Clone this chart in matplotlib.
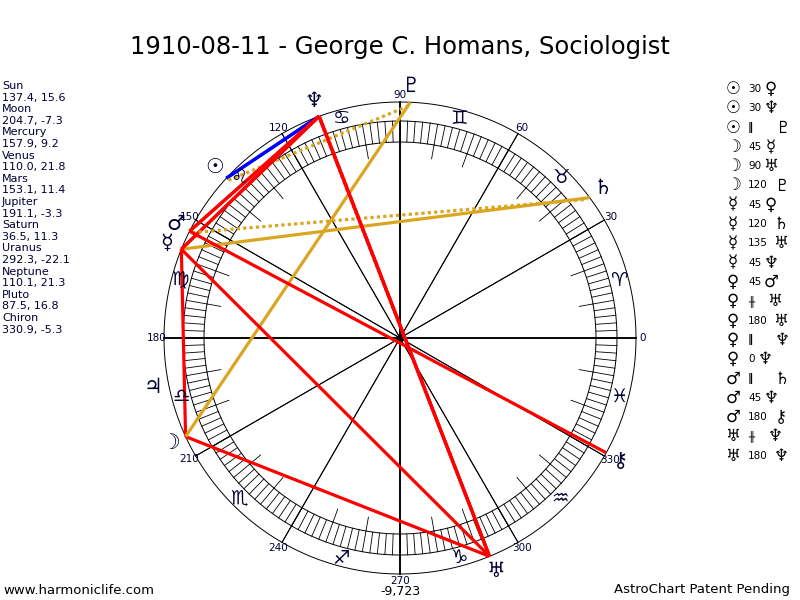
import numpy as np
import matplotlib
matplotlib.use('Agg')
import matplotlib.pyplot as plt

# planet data: longitude, declination
planets = ['Sun', 'Moon', 'Mercury', 'Venus', 'Mars', 'Jupiter', 'Saturn',
           'Uranus', 'Neptune', 'Pluto', 'Chiron']
longitude = [137.4, 204.7, 157.9, 110.0, 153.1, 191.1, 36.5, 292.3, 110.1, 87.5, 330.9]
declination = [15.6, -7.3, 9.2, 21.8, 11.4, -3.3, 11.3, -22.1, 21.3, 16.8, -5.3]
glyphs = ['\u2609', '\u263D', '\u263F', '\u2640', '\u2642', '\u2643', '\u2644',
          '\u2645', '\u2646', '\u2647', '\u26B7']

signs = ['\u2648', '\u2649', '\u264A', '\u264B', '\u264C', '\u264D',
         '\u264E', '\u264F', '\u2650', '\u2651', '\u2652', '\u2653']

PAR = '\u2016'
CPAR = '\u256B'
# aspects: planet a, aspect, planet b
aspects = [
    ('Sun', '30', 'Venus'), ('Sun', '30', 'Neptune'), ('Sun', PAR, 'Pluto'),
    ('Moon', '45', 'Mercury'), ('Moon', '90', 'Uranus'), ('Moon', '120', 'Pluto'),
    ('Mercury', '45', 'Venus'), ('Mercury', '120', 'Saturn'), ('Mercury', '135', 'Uranus'),
    ('Mercury', '45', 'Neptune'), ('Venus', '45', 'Mars'), ('Venus', CPAR, 'Uranus'),
    ('Venus', '180', 'Uranus'), ('Venus', PAR, 'Neptune'), ('Venus', '0', 'Neptune'),
    ('Mars', PAR, 'Saturn'), ('Mars', '45', 'Neptune'), ('Mars', '180', 'Chiron'),
    ('Uranus', CPAR, 'Neptune'), ('Uranus', '180', 'Neptune'),
]

title = '1910-08-11 - George C. Homans, Sociologist'
footer_left = 'www.harmoniclife.com'
footer_right = 'AstroChart Patent Pending'
footer_mid = '-9,723'

INK = '#000033'
R_OUT, R_BAND_O, R_BAND_I = 236, 217, 196


def xy(deg, r):
    a = np.radians(deg)
    return r * np.cos(a), r * np.sin(a)


fig = plt.figure(figsize=(8, 6), dpi=100)
ax = fig.add_axes([0, 0, 1, 1])
ax.set_xlim(-400, 400)
ax.set_ylim(-262, 338)
ax.axis('off')

t = np.linspace(0, 360, 721)
for r in (R_OUT, R_BAND_O, R_BAND_I):
    ax.plot(*xy(t, r), color='black', lw=0.7)

# band ticks every 2 deg, longer every 10 deg
for d in range(0, 360, 2):
    ax.plot(*xy(np.array([d, d]), np.array([R_BAND_I, R_BAND_O])), color='black', lw=0.6)
for d in range(0, 360, 10):
    if d % 30:
        ax.plot(*xy(np.array([d, d]), np.array([182, R_BAND_I])), color='black', lw=0.6)

# spokes and degree labels
for d in range(0, 360, 30):
    lw = 1.1 if d % 90 == 0 else 0.7
    ax.plot(*xy(np.array([d, d + 180.0]), np.array([R_OUT, R_OUT])), color='black', lw=lw)
    lx, ly = xy(d, 243)
    ax.text(lx, ly, str(d), fontsize=7.5, ha='center', va='center', color=INK)
ax.plot(0, 0, 'o', color='black', ms=4)

# zodiac signs
for i, s in enumerate(signs):
    sx, sy = xy(15 + 30 * i, 227)
    ax.text(sx, sy, s, fontsize=14, ha='center', va='center', color=INK)

pos = dict(zip(planets, longitude))
gl = dict(zip(planets, glyphs))


def style(label):
    if label == '30':
        return dict(color='#0000ff', ls='-')
    if label == '120':
        return dict(color='#daa520', ls='-')
    if label == PAR:
        return dict(color='#daa520', ls=(0, (1, 1)))
    if label == CPAR:
        return dict(color='#ff0000', ls=(0, (1, 1)))
    if label == '0':
        return dict(color='#0000ff', ls='-')
    return dict(color='#ff0000', ls='-')


for a, lab, b in aspects:
    r = 233 if lab in (PAR, CPAR) else R_OUT
    st = style(lab)
    ax.plot(*xy(np.array([pos[a], pos[b]]), np.array([r, r])), lw=2.3,
            solid_capstyle='butt', **st)

# planet glyphs (Venus sits under Neptune)
for p, lon in zip(planets, longitude):
    if p == 'Venus':
        continue
    gx, gy = xy(lon, 252)
    ax.text(gx, gy, gl[p], fontsize=15, ha='center', va='center', color=INK,
            fontweight='bold')

# text panels
fig.text(0.5, 1 - 47 / 600, title, fontsize=17.5, ha='center', va='center', color='black')
y0 = 86
for i, (p, lon, dec) in enumerate(zip(planets, longitude, declination)):
    fig.text(2 / 800, 1 - (y0 + 23.2 * i) / 600, p, fontsize=8, va='center', color=INK)
    fig.text(2 / 800, 1 - (y0 + 11.6 + 23.2 * i) / 600, f'{lon:.1f}, {dec:.1f}',
             fontsize=8, va='center', color=INK)

# x of the second glyph, by aspect label
second_x = {PAR: 782, CPAR: 775, '0': 765}
for i, (a, lab, b) in enumerate(aspects):
    ry = 1 - (89 + 19.3 * i) / 600
    fig.text(733 / 800, ry, gl[a], fontsize=12, ha='center', va='center', color='black',
             fontweight='bold')
    fig.text(748 / 800, ry, lab, fontsize=7.5, ha='left', va='center', color='black',
             fontweight='bold' if lab in (PAR, CPAR) else 'normal')
    x2 = second_x.get(lab, 771 if len(lab) == 2 else 781)
    fig.text(x2 / 800, ry, gl[b], fontsize=12, ha='center', va='center', color='black')

fig.text(3 / 800, 1 - 590 / 600, footer_left, fontsize=9.5, va='center', color='black')
fig.text(790 / 800, 1 - 590 / 600, footer_right, fontsize=9.5, ha='right', va='center', color='black')
fig.text(0.5, 1 - 592 / 600, footer_mid, fontsize=9, ha='center', va='center', color='black')

fig.savefig('out.png', dpi=100)
